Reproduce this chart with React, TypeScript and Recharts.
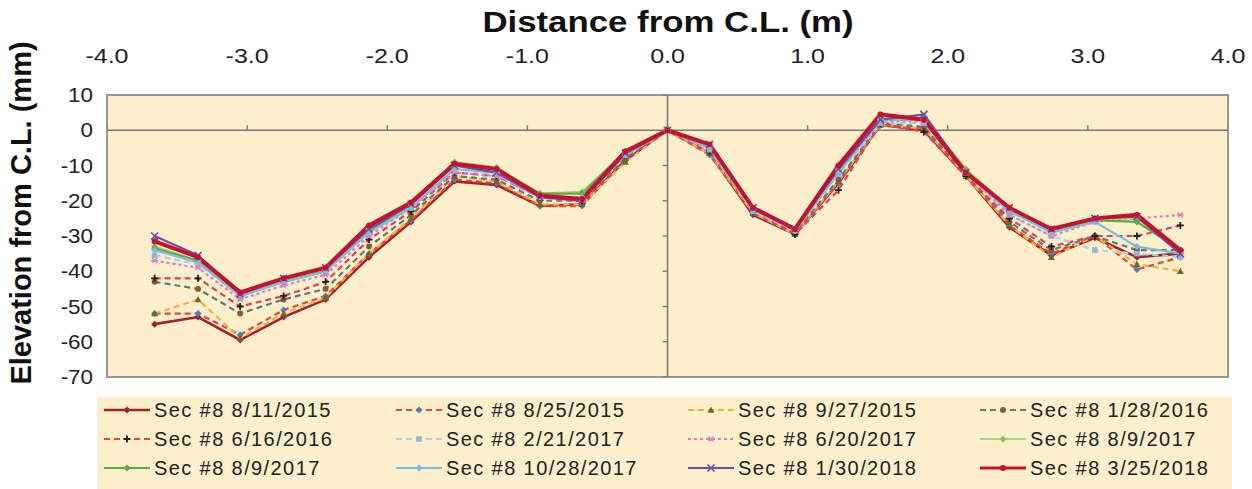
import React from "react";
import {
  ComposedChart,
  Line,
  Scatter,
  XAxis,
  YAxis,
  CartesianGrid,
  ReferenceArea,
  ReferenceLine,
} from "recharts";

// distance from centre line (m), one reading every foot
const distances = [
  -3.66, -3.35, -3.05, -2.74, -2.44, -2.13, -1.83, -1.52, -1.22, -0.91, -0.61, -0.3, 0,
  0.3, 0.61, 0.91, 1.22, 1.52, 1.83, 2.13, 2.44, 2.74, 3.05, 3.35, 3.66,
];

const xTicks = [-4, -3, -2, -1, 0, 1, 2, 3, 4];
const yTicks = [10, 0, -10, -20, -30, -40, -50, -60, -70];

const sec8_20150811 = [-55, -53, -59.5, -53, -48, -36, -26, -14.5, -15.5, -21.5, -21, -8.5, 0, -6.5, -24, -29.5, -15, 1.5, 0, -13, -27.5, -35.5, -30.5, -36, -35];
const sec8_20150825 = [-52, -52, -58, -51, -47, -35, -25.5, -14, -15, -21.5, -21.5, -8, 0, -7, -23.5, -29.5, -15, 1.5, 0.5, -13, -27, -35, -30, -39.5, -36];
const sec8_20150927 = [-52, -48, -59, -52, -47.5, -35, -25, -13, -14.5, -21, -21, -9, 0, -6.5, -23.5, -29.5, -14.5, 1.5, 0.5, -13, -27, -36, -30, -38, -40];
const sec8_20160128 = [-43, -45, -52, -48, -45, -33, -24, -13, -14, -20, -20, -8, 0, -6, -23, -29, -14, 2, 1, -12.5, -26, -34, -30, -34, -34];
const sec8_20160616 = [-42, -42, -50, -47, -43, -31, -23, -12, -13, -19, -20, -7, 0, -6, -23, -29.5, -17, 2, -0.5, -13, -25, -33, -30, -30, -27];
const sec8_20170221 = [-35.5, -38, -47, -43, -40, -29, -22, -11, -12.5, -19, -19.5, -7, 0, -5.5, -23, -28.5, -12.5, 2, 2, -12, -24, -30, -34, -35, -36];
const sec8_20170620 = [-37, -39, -48, -44, -41, -30, -22, -12, -13, -19, -20, -7, 0, -5, -22.5, -28.5, -12, 2.5, 2.5, -12, -24, -30, -26, -25, -24];
const sec8_20170809a = [-33, -37, -47, -42.5, -39.5, -28, -20.5, -9, -10.5, -18, -17.5, -6, 0, -4.5, -22, -28, -11, 3.5, 3.5, -11, -22, -28, -25, -25, -34];
const sec8_20170809b = [-33.5, -37, -47, -43, -40, -28.5, -21, -9.5, -11, -18, -18, -6, 0, -5, -22.5, -28, -11.5, 3, 3, -11.5, -23, -28.5, -25.5, -26, -34];
const sec8_20171028 = [-34, -37.5, -47, -43, -40, -29, -22, -11, -12, -19, -19, -7, 0, -5, -22.5, -28.5, -12, 3, 3, -12, -23, -29, -26, -33, -35];
const sec8_20180130 = [-30, -35.5, -46.5, -42, -39, -28, -21, -10, -12, -19, -20, -6.5, 0, -4, -22, -28, -11, 3, 4.5, -12, -22, -28, -25, -24.5, -35];
const sec8_20180325 = [-31.5, -36, -46, -42, -39, -27, -20.5, -9.5, -11, -18.5, -19.5, -6, 0, -4, -22, -28, -10, 4.5, 3, -12, -22, -28, -25, -24, -34];

type Shape = "diamond" | "triangle" | "circle" | "square" | "plus" | "star" | "x";

type Series = {
  name: string;
  values: number[];
  color: string;
  dash?: string;
  width: number;
  shape: Shape;
  markerColor: string;
};

const series: Series[] = [
  { name: "Sec #8 8/11/2015", values: sec8_20150811, color: "#a91f2e", width: 2.6, shape: "diamond", markerColor: "#a91f2e" },
  { name: "Sec #8 8/25/2015", values: sec8_20150825, color: "#e8453c", dash: "6 4", width: 2.2, shape: "diamond", markerColor: "#4f7fbf" },
  { name: "Sec #8 9/27/2015", values: sec8_20150927, color: "#f2b23a", dash: "6 4", width: 2.2, shape: "triangle", markerColor: "#6b6b22" },
  { name: "Sec #8 1/28/2016", values: sec8_20160128, color: "#5f7c74", dash: "6 4", width: 2.2, shape: "circle", markerColor: "#8b5a33" },
  { name: "Sec #8 6/16/2016", values: sec8_20160616, color: "#e04060", dash: "6 4", width: 2.2, shape: "plus", markerColor: "#222222" },
  { name: "Sec #8 2/21/2017", values: sec8_20170221, color: "#a8d2ea", dash: "6 4", width: 2.2, shape: "square", markerColor: "#93b7d8" },
  { name: "Sec #8 6/20/2017", values: sec8_20170620, color: "#e27cc0", dash: "3 3", width: 2.2, shape: "star", markerColor: "#e27cc0" },
  { name: "Sec #8 8/9/2017", values: sec8_20170809a, color: "#a4d67a", width: 2.2, shape: "diamond", markerColor: "#86c35a" },
  { name: "Sec #8 8/9/2017", values: sec8_20170809b, color: "#5cab3c", width: 2.2, shape: "diamond", markerColor: "#5cab3c" },
  { name: "Sec #8 10/28/2017", values: sec8_20171028, color: "#7bbddf", width: 2.2, shape: "diamond", markerColor: "#7bbddf" },
  { name: "Sec #8 1/30/2018", values: sec8_20180130, color: "#6a4ea8", width: 2.2, shape: "x", markerColor: "#6a4ea8" },
  { name: "Sec #8 3/25/2018", values: sec8_20180325, color: "#c8102e", width: 4, shape: "circle", markerColor: "#c8102e" },
];

const BEIGE = "#fcefcb";
const FONT = "'Liberation Sans', Arial, sans-serif";

function Marker({ cx, cy, shape, color, s = 3.5 }: { cx: number; cy: number; shape: Shape; color: string; s?: number }) {
  if (cx == null || cy == null) return null;
  switch (shape) {
    case "diamond":
      return <path d={`M${cx},${cy - s}L${cx + s},${cy}L${cx},${cy + s}L${cx - s},${cy}Z`} fill={color} />;
    case "triangle":
      return <path d={`M${cx},${cy - s}L${cx + s},${cy + s * 0.8}L${cx - s},${cy + s * 0.8}Z`} fill={color} />;
    case "square":
      return <rect x={cx - s * 0.8} y={cy - s * 0.8} width={s * 1.6} height={s * 1.6} fill={color} />;
    case "circle":
      return <circle cx={cx} cy={cy} r={s * 0.85} fill={color} />;
    case "plus":
      return <path d={`M${cx - s},${cy}H${cx + s}M${cx},${cy - s}V${cy + s}`} stroke={color} strokeWidth={1.8} />;
    case "star":
      return (
        <path
          d={`M${cx - s},${cy}H${cx + s}M${cx - s * 0.7},${cy - s * 0.7}L${cx + s * 0.7},${cy + s * 0.7}M${cx - s * 0.7},${cy + s * 0.7}L${cx + s * 0.7},${cy - s * 0.7}`}
          stroke={color}
          strokeWidth={1.4}
        />
      );
    case "x":
      return <path d={`M${cx - s},${cy - s}L${cx + s},${cy + s}M${cx - s},${cy + s}L${cx + s},${cy - s}`} stroke={color} strokeWidth={1.6} />;
  }
  return null;
}

const makeDot = (sr: Series) => (props: any) => (
  <g key={`dot-${props.index}`}>
    <Marker cx={props.cx} cy={props.cy} shape={sr.shape} color={sr.markerColor} />
  </g>
);

const XTick = ({ x, y, payload }: any) => (
  <g transform={`translate(${x},${y - 32}) scale(1.25,1)`}>
    <text textAnchor="middle" fontSize={20} fontFamily={FONT} fill="#222">
      {Number(payload.value).toFixed(1)}
    </text>
  </g>
);

const YTick = ({ x, y, payload }: any) => (
  <g transform={`translate(${x - 14},${y + 7}) scale(1.12,1)`}>
    <text textAnchor="end" fontSize={20} fontFamily={FONT} fill="#222">
      {payload.value}
    </text>
  </g>
);

const xAxisMarks = xTicks.map((x) => ({ x, y: 0 }));
const yAxisMarks = yTicks.map((y) => ({ x: 0, y }));

function LegendSample({ sr }: { sr: Series }) {
  return (
    <svg width={48} height={20} style={{ display: "block" }}>
      <line x1={1} y1={10} x2={47} y2={10} stroke={sr.color} strokeWidth={Math.min(sr.width, 3)} strokeDasharray={sr.dash} />
      <Marker cx={24} cy={10} shape={sr.shape} color={sr.markerColor} />
    </svg>
  );
}

export default function App() {
  const legendCols = [103, 395, 687, 979];
  return (
    <div style={{ position: "absolute", left: 0, top: 0, width: 1252, height: 489, background: "#fff", fontFamily: FONT }}>
      <div
        style={{
          position: "absolute",
          left: 668,
          top: 22,
          transform: "translate(-50%, -50%) scaleX(1.2)",
          fontSize: 29,
          fontWeight: 700,
          color: "#111",
          whiteSpace: "nowrap",
        }}
      >
        Distance from C.L. (m)
      </div>
      <div
        style={{
          position: "absolute",
          left: 21,
          top: 213,
          transform: "translate(-50%, -50%) rotate(-90deg)",
          fontSize: 29,
          fontWeight: 700,
          color: "#111",
          whiteSpace: "nowrap",
        }}
      >
        Elevation from C.L. (mm)
      </div>

      <div style={{ position: "absolute", left: 0, top: 0 }}>
        <ComposedChart width={1252} height={400} margin={{ top: 65, right: 24, left: 57, bottom: 23 }}>
          <CartesianGrid horizontal={false} vertical={false} fill={BEIGE} />
          <XAxis
            dataKey="x"
            type="number"
            orientation="top"
            domain={[-4, 4]}
            ticks={xTicks}
            axisLine={false}
            tickLine={false}
            tickSize={0}
            tickMargin={0}
            height={30}
            tick={<XTick />}
            allowDataOverflow
          />
          <YAxis
            type="number"
            domain={[-70, 10]}
            ticks={yTicks}
            axisLine={false}
            tickLine={false}
            tickSize={0}
            tickMargin={0}
            width={50}
            tick={<YTick />}
            allowDataOverflow
          />
          <ReferenceArea x1={-4} x2={4} y1={-70} y2={10} fill="none" stroke="#999790" strokeWidth={2} />
          <ReferenceLine y={0} stroke="#7d7b74" strokeWidth={1.6} />
          <ReferenceLine x={0} stroke="#7d7b74" strokeWidth={1.6} />
          <Scatter
            data={xAxisMarks}
            dataKey="y"
            isAnimationActive={false}
            shape={(p: any) => <path d={`M${p.cx},${p.cy - 5}V${p.cy}`} stroke="#7d7b74" strokeWidth={1.4} />}
          />
          <Scatter
            data={yAxisMarks}
            dataKey="y"
            isAnimationActive={false}
            shape={(p: any) => <path d={`M${p.cx - 5},${p.cy}H${p.cx}`} stroke="#7d7b74" strokeWidth={1.4} />}
          />
          {series.map((sr, i) => (
            <Line
              key={i}
              data={distances.map((x, j) => ({ x, y: sr.values[j] }))}
              dataKey="y"
              type="linear"
              stroke={sr.color}
              strokeWidth={sr.width}
              strokeDasharray={sr.dash}
              dot={makeDot(sr)}
              activeDot={false}
              isAnimationActive={false}
            />
          ))}
        </ComposedChart>
      </div>

      <div style={{ position: "absolute", left: 97, top: 397, width: 1135, height: 92, background: BEIGE }} />
      {series.map((sr, i) => {
        const col = i % 4;
        const row = Math.floor(i / 4);
        return (
          <div
            key={i}
            style={{
              position: "absolute",
              left: legendCols[col],
              top: 410 + row * 29 - 14,
              height: 28,
              display: "flex",
              alignItems: "center",
              gap: 3,
              whiteSpace: "nowrap",
            }}
          >
            <LegendSample sr={sr} />
            <span style={{ fontSize: 20, letterSpacing: 1.4, color: "#222" }}>{sr.name}</span>
          </div>
        );
      })}
    </div>
  );
}
